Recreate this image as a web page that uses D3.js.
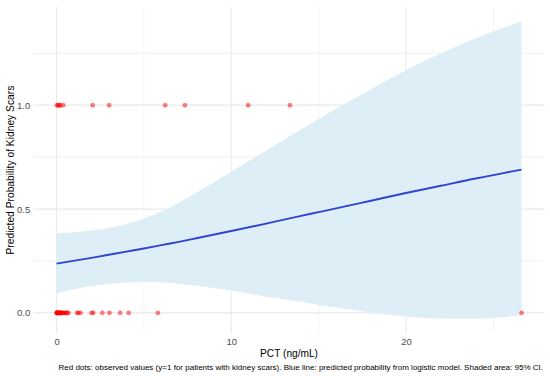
<!DOCTYPE html>
<html lang="en">
<head>
<meta charset="UTF-8">
<script src="https://d3js.org/d3.v7.min.js"></script>
<style>
    body { margin: 0; background: #fff; }
    #plot { position: absolute; width: 550px; height: 376px; }
    text { font-family: "Liberation Sans", Arial, Helvetica, sans-serif; }
</style>
</head>
<body>
<div id="plot"></div>
<script>
// curve: PCT, fitted probability, lower / upper 95% CI
const pctGrid = [0, 2, 4, 5, 6, 7, 8, 10, 12, 14, 15, 16, 18, 20, 22, 24, 25, 26, 26.62];
const fitProb = [0.237, 0.265, 0.295, 0.310, 0.326, 0.342, 0.359, 0.394, 0.430, 0.467, 0.485, 0.503, 0.540, 0.577, 0.612, 0.647, 0.663, 0.680, 0.690];
const lowerCI = [0.093, 0.129, 0.146, 0.149, 0.147, 0.140, 0.131, 0.107, 0.078, 0.053, 0.038, 0.026, 0.002, -0.018, -0.027, -0.028, -0.025, -0.017, -0.011];
const upperCI = [0.382, 0.396, 0.428, 0.454, 0.488, 0.530, 0.578, 0.680, 0.782, 0.884, 0.934, 0.983, 1.077, 1.168, 1.250, 1.322, 1.355, 1.385, 1.403];

// observed patients
const pctScar = [0.02, 0.08, 0.15, 0.22, 0.38, 2.07, 3.01, 6.22, 7.35, 10.97, 13.36];
const pctNoScar = [0.01, 0.02, 0.03, 0.04, 0.05, 0.06, 0.08, 0.10, 0.12, 0.14, 0.16, 0.18, 0.20, 0.22, 0.25,
                   0.28, 0.30, 0.35, 0.40, 0.45, 0.50, 0.55, 0.62, 0.68, 1.18, 1.25, 1.38, 2.00, 2.10, 2.62,
                   3.03, 3.64, 4.13, 5.80, 26.62];

const xTicks = [0, 10, 20];
const xMinor = [5, 15, 25];
const yTicks = [0, 0.5, 1];
const yMinor = [0.25, 0.75, 1.25];

const caption = "Red dots: observed values (y=1 for patients with kidney scars). Blue line: predicted probability from logistic model. Shaded area: 95% CI.";

// shrink/grow a text node's font so it spans the given width
function fitText(sel, target) {
    const fs = parseFloat(sel.style("font-size"));
    const w = sel.node().getComputedTextLength();
    sel.style("font-size", (fs * target / w).toFixed(2) + "px");
}

function drawChart() {
    const width = 550, height = 376;
    const panel = {left: 33.3, right: 544.8, top: 6.7, bottom: 333.5};

    const svg = d3.select("#plot").append("svg")
        .attr("width", width)
        .attr("height", height);

    const curve = pctGrid.map((x, i) => ({x: x, fit: fitProb[i], lo: lowerCI[i], hi: upperCI[i]}));

    // scales with ggplot style 5% padding
    const xExt = [0, d3.max(pctGrid)];
    const xPad = (xExt[1] - xExt[0]) * 0.05;
    const x = d3.scaleLinear()
        .domain([xExt[0] - xPad, xExt[1] + xPad])
        .range([panel.left, panel.right]);

    const yExt = [d3.min(lowerCI), d3.max(upperCI)];
    const yPad = (yExt[1] - yExt[0]) * 0.05;
    const y = d3.scaleLinear()
        .domain([yExt[0] - yPad, yExt[1] + yPad])
        .range([panel.bottom, panel.top]);

    // grid
    const grid = svg.append("g");
    grid.selectAll(".ym").data(yMinor).join("line")
        .attr("x1", panel.left).attr("x2", panel.right)
        .attr("y1", d => y(d)).attr("y2", d => y(d))
        .attr("stroke", "#f1f1f1").attr("stroke-width", 1);
    grid.selectAll(".xm").data(xMinor).join("line")
        .attr("y1", panel.top).attr("y2", panel.bottom)
        .attr("x1", d => x(d)).attr("x2", d => x(d))
        .attr("stroke", "#f1f1f1").attr("stroke-width", 0.8);
    grid.selectAll(".yM").data(yTicks).join("line")
        .attr("x1", panel.left).attr("x2", panel.right)
        .attr("y1", d => y(d)).attr("y2", d => y(d))
        .attr("stroke", "#e9e9e9").attr("stroke-width", 1.2);
    grid.selectAll(".xM").data(xTicks).join("line")
        .attr("y1", panel.top).attr("y2", panel.bottom)
        .attr("x1", d => x(d)).attr("x2", d => x(d))
        .attr("stroke", "#e9e9e9").attr("stroke-width", 1);

    // ribbon
    svg.append("path")
        .datum(curve)
        .attr("fill", "#deeef6")
        .attr("d", d3.area().curve(d3.curveMonotoneX)
            .x(d => x(d.x)).y0(d => y(d.lo)).y1(d => y(d.hi)));

    // observed points
    const pts = pctNoScar.map(v => [v, 0]).concat(pctScar.map(v => [v, 1]));
    svg.append("g").selectAll("circle").data(pts).join("circle")
        .attr("cx", d => x(d[0]))
        .attr("cy", d => y(d[1]))
        .attr("r", 2.2)
        .attr("fill", "#ff0000")
        .attr("fill-opacity", 0.5)
        .attr("stroke", "#ff0000")
        .attr("stroke-opacity", 0.3)
        .attr("stroke-width", 0.5);

    // fitted line
    svg.append("path")
        .datum(curve)
        .attr("fill", "none")
        .attr("stroke", "#2f44d2")
        .attr("stroke-width", 1.9)
        .attr("d", d3.line().curve(d3.curveMonotoneX).x(d => x(d.x)).y(d => y(d.fit)));

    // axes (labels only, theme_minimal)
    const xAxis = svg.append("g")
        .attr("transform", `translate(0, ${panel.bottom})`)
        .call(d3.axisBottom(x).tickValues(xTicks).tickSize(0).tickPadding(5).tickFormat(d3.format("d")));
    xAxis.select(".domain").remove();
    xAxis.selectAll("text").attr("fill", "#4d4d4d").style("font-size", "9.5px");

    const yAxis = svg.append("g")
        .attr("transform", `translate(${panel.left}, 0)`)
        .call(d3.axisLeft(y).tickValues(yTicks).tickSize(0).tickPadding(3).tickFormat(d3.format(".1f")));
    yAxis.select(".domain").remove();
    yAxis.selectAll("text").attr("fill", "#4d4d4d").style("font-size", "9.5px");

    // titles
    const xt = svg.append("text")
        .attr("x", (panel.left + panel.right) / 2)
        .attr("y", 356.5)
        .attr("text-anchor", "middle")
        .style("font-size", "11px")
        .attr("fill", "#000")
        .text("PCT (ng/mL)");
    fitText(xt, 58);

    const yt = svg.append("text")
        .attr("transform", `translate(13.5, ${(panel.top + panel.bottom) / 2}) rotate(-90)`)
        .attr("text-anchor", "middle")
        .style("font-size", "11px")
        .attr("fill", "#000")
        .text("Predicted Probability of Kidney Scars");
    fitText(yt, 169);

    const cap = svg.append("text")
        .attr("x", 543)
        .attr("y", 370)
        .attr("text-anchor", "end")
        .style("font-size", "8px")
        .attr("fill", "#000")
        .text(caption);
    fitText(cap, 485);
}

window.onload = drawChart;
</script>
</body>
</html>
